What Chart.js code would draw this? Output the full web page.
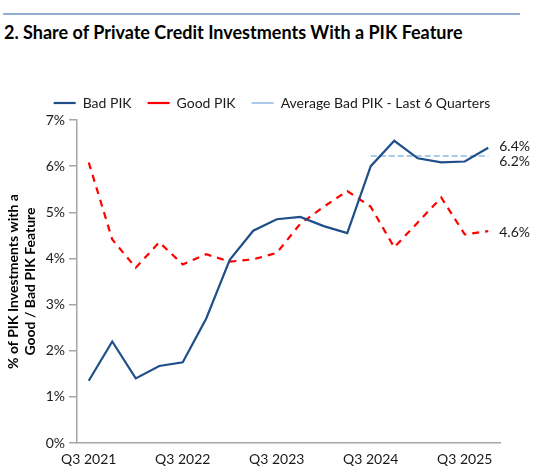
<!DOCTYPE html>
<html>
<head>
<meta charset="utf-8">
<script src="https://cdn.jsdelivr.net/npm/chart.js@4.4.1/dist/chart.umd.min.js"></script>
<style>
  body { margin: 0; background: #fff; width: 544px; height: 473px; overflow: hidden; position: relative; font-family: Lato, sans-serif; }
  #raya { position: absolute; left: 3px; top: 13px; width: 517px; height: 2px; background: #93aed0; }
  #titulo { position: absolute; left: 4px; top: 21px; font-weight: bold; font-size: 18px; color: #000; white-space: nowrap; }
  #contenedor { position: absolute; left: 0; top: 0; width: 544px; height: 473px; }
</style>
</head>
<body>
<div id="raya"></div>
<div id="titulo">2. Share of Private Credit Investments With a PIK Feature</div>
<div id="contenedor"><canvas id="grafica"></canvas></div>
<script>
// datos (%)
const trimestres = ['Q3 2021','Q4 2021','Q1 2022','Q2 2022','Q3 2022','Q4 2022','Q1 2023','Q2 2023','Q3 2023',
  'Q4 2023','Q1 2024','Q2 2024','Q3 2024','Q4 2024','Q1 2025','Q2 2025','Q3 2025','Q4 2025'];
const badPik = [1.35, 2.2, 1.4, 1.67, 1.75, 2.7, 3.97, 4.6, 4.85, 4.9, 4.7, 4.55, 6.0, 6.55, 6.17, 6.08, 6.1, 6.4];
const goodPik = [6.08, 4.41, 3.8, 4.35, 3.87, 4.09, 3.93, 3.98, 4.12, 4.75, 5.12, 5.46, 5.12, 4.24, 4.78, 5.32, 4.52, 4.59];
const promedioBad = [null, null, null, null, null, null, null, null, null, null, null, null, 6.22, 6.22, 6.22, 6.22, 6.22, 6.22];
const ticksY = [0, 1, 2, 3, 4, 5, 6, 7];
const etiquetasFinal = [
  { serie: 0, texto: '6.4%', dy: -1 },
  { serie: 2, texto: '6.2%', dy: 5 },
  { serie: 1, texto: '4.6%', dy: 1 }
];

const fuente = 'Lato, sans-serif';
const colorTexto = '#1a1a1a';
const colorEje = '#a6a6a6';

// etiquetas con el ultimo valor a la derecha
const etiquetasPlugin = {
  id: 'etiquetas',
  afterDatasetsDraw(chart) {
    const ctx = chart.ctx;
    const x = chart.scales.x;
    const y = chart.scales.y;
    ctx.save();
    ctx.font = '14px ' + fuente;
    ctx.fillStyle = colorTexto;
    ctx.textAlign = 'left';
    ctx.textBaseline = 'middle';
    etiquetasFinal.forEach(e => {
      const datos = chart.data.datasets[e.serie].data;
      const i = datos.length - 1;
      ctx.fillText(e.texto, x.getPixelForValue(i) + 11, y.getPixelForValue(datos[i]) + e.dy);
    });
    ctx.restore();
  }
};

let ctx = document.getElementById('grafica').getContext('2d');
let grafica = new Chart(ctx, {
  type: 'line',
  data: {
    labels: trimestres,
    datasets: [
      {
        label: 'Bad PIK',
        data: badPik,
        borderColor: '#1f4e88',
        borderWidth: 2.2,
        pointRadius: 0,
        tension: 0
      },
      {
        label: 'Good PIK',
        data: goodPik,
        borderColor: '#ff0000',
        borderWidth: 2.2,
        borderDash: [7, 6],
        pointRadius: 0,
        tension: 0
      },
      {
        label: 'Average Bad PIK - Last 6 Quarters',
        data: promedioBad,
        borderColor: '#a9cbe8',
        borderWidth: 2,
        borderDash: [6, 3],
        pointRadius: 0,
        tension: 0
      }
    ]
  },
  options: {
    responsive: true,
    maintainAspectRatio: false,
    animation: false,
    layout: { padding: { top: 80, left: 0, right: 0, bottom: 0 } },
    plugins: {
      title: { display: false },
      tooltip: { enabled: false },
      legend: {
        position: 'top',
        labels: {
          usePointStyle: true,
          pointStyle: 'line',
          pointStyleWidth: 22,
          padding: 16,
          color: colorTexto,
          font: { family: fuente, size: 14 }
        }
      }
    },
    scales: {
      x: {
        offset: true,
        grid: { display: false, drawTicks: false },
        border: { display: true, color: colorEje, width: 1.5 },
        ticks: {
          autoSkip: false,
          maxRotation: 0,
          padding: 8,
          color: colorTexto,
          font: { family: fuente, size: 14 },
          callback: (v, i) => trimestres[i].startsWith('Q3') ? trimestres[i] : ''
        },
        afterFit: s => { s.height = 30; }
      },
      y: {
        min: 0,
        max: 7,
        afterBuildTicks: s => { s.ticks = ticksY.map(v => ({ value: v })); },
        grid: { drawOnChartArea: false, drawTicks: true, tickLength: 8, color: colorEje, lineWidth: 1.5 },
        border: { display: true, color: colorEje, width: 1.5 },
        ticks: {
          padding: 4,
          color: colorTexto,
          font: { family: fuente, size: 14 },
          callback: v => v + '%'
        },
        title: {
          display: true,
          text: ['% of PIK Investments with a', 'Good / Bad PIK Feature'],
          color: '#000',
          font: { family: fuente, size: 14, weight: 'bold', lineHeight: 1.2 },
          padding: { top: 5, bottom: 0 }
        },
        afterFit: s => { s.width = 77; }
      },
      derecha: {
        position: 'right',
        display: true,
        grid: { display: false },
        border: { display: false },
        ticks: { display: false },
        afterFit: s => { s.width = 44; }
      }
    }
  },
  plugins: [etiquetasPlugin]
});
</script>
</body>
</html>
